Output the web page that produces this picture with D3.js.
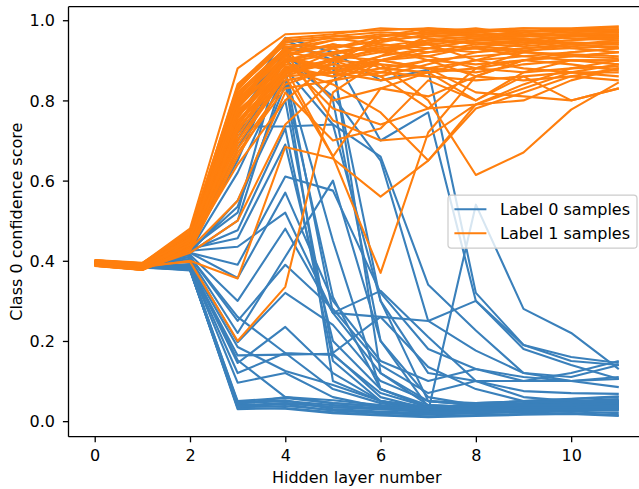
<!DOCTYPE html>
<html>
<head>
<meta charset="utf-8">
<script src="https://cdn.jsdelivr.net/npm/d3@7/dist/d3.min.js"></script>
<style>
  body { margin: 0; background: #fff; }
  svg { display: block; }
  text { font-family: "DejaVu Sans", sans-serif; fill: #000; }
</style>
</head>
<body>
<svg id="chart" width="639" height="489"></svg>
<script>
// Hidden layer index on the x axis
const layers = [0, 1, 2, 3, 4, 5, 6, 7, 8, 9, 10, 11];

// Class 0 confidence per layer, one row per sample with label 0
const label0Scores = [
  [0.395,0.386,0.379,0.035,0.038,0.028,0.022,0.018,0.020,0.022,0.024,0.020],
  [0.394,0.385,0.377,0.040,0.045,0.035,0.030,0.025,0.028,0.030,0.033,0.035],
  [0.396,0.387,0.380,0.030,0.033,0.022,0.016,0.012,0.015,0.018,0.020,0.015],
  [0.393,0.384,0.376,0.045,0.050,0.040,0.032,0.022,0.025,0.032,0.038,0.042],
  [0.395,0.385,0.381,0.050,0.058,0.045,0.038,0.030,0.038,0.042,0.048,0.052],
  [0.394,0.383,0.378,0.033,0.031,0.020,0.014,0.010,0.013,0.016,0.018,0.013],
  [0.396,0.386,0.382,0.042,0.060,0.052,0.040,0.028,0.045,0.050,0.056,0.062],
  [0.395,0.384,0.379,0.038,0.042,0.026,0.020,0.016,0.020,0.024,0.028,0.026],
  [0.394,0.385,0.383,0.047,0.052,0.030,0.024,0.020,0.022,0.026,0.030,0.030],
  [0.395,0.385,0.385,0.096,0.120,0.060,0.035,0.025,0.030,0.032,0.034,0.036],
  [0.395,0.386,0.386,0.120,0.170,0.080,0.045,0.028,0.032,0.035,0.038,0.040],
  [0.394,0.384,0.388,0.145,0.235,0.120,0.050,0.030,0.035,0.040,0.045,0.048],
  [0.395,0.385,0.390,0.152,0.060,0.045,0.036,0.030,0.030,0.034,0.036,0.038],
  [0.395,0.385,0.387,0.164,0.166,0.168,0.060,0.030,0.035,0.040,0.043,0.045],
  [0.396,0.386,0.392,0.185,0.125,0.090,0.050,0.035,0.040,0.050,0.055,0.060],
  [0.396,0.386,0.400,0.197,0.320,0.240,0.100,0.050,0.045,0.050,0.050,0.055],
  [0.395,0.385,0.405,0.220,0.410,0.600,0.200,0.035,0.030,0.030,0.032,0.030],
  [0.394,0.384,0.410,0.250,0.390,0.280,0.140,0.070,0.100,0.075,0.070,0.068],
  [0.395,0.386,0.410,0.260,0.170,0.165,0.070,0.035,0.040,0.045,0.050,0.050],
  [0.395,0.386,0.415,0.300,0.480,0.270,0.120,0.050,0.040,0.040,0.042,0.045],
  [0.396,0.387,0.420,0.357,0.570,0.300,0.150,0.100,0.130,0.100,0.100,0.105],
  [0.395,0.386,0.420,0.390,0.610,0.575,0.320,0.180,0.130,0.110,0.100,0.110],
  [0.394,0.385,0.425,0.435,0.520,0.270,0.260,0.250,0.300,0.190,0.150,0.140],
  [0.395,0.385,0.430,0.456,0.690,0.200,0.080,0.040,0.035,0.035,0.040,0.040],
  [0.396,0.386,0.425,0.476,0.730,0.150,0.050,0.030,0.030,0.030,0.035,0.035],
  [0.395,0.386,0.420,0.500,0.870,0.450,0.080,0.035,0.028,0.030,0.030,0.030],
  [0.395,0.385,0.430,0.520,0.950,0.900,0.120,0.040,0.035,0.035,0.040,0.038],
  [0.394,0.384,0.425,0.535,0.840,0.310,0.080,0.035,0.030,0.030,0.030,0.030],
  [0.396,0.386,0.435,0.650,0.930,0.914,0.700,0.770,0.300,0.180,0.140,0.105],
  [0.395,0.385,0.430,0.735,0.735,0.740,0.660,0.340,0.226,0.120,0.100,0.085],
  [0.395,0.386,0.440,0.700,0.900,0.880,0.300,0.050,0.040,0.030,0.030,0.030],
  [0.395,0.386,0.440,0.780,0.956,0.920,0.850,0.877,0.320,0.190,0.160,0.145],
  [0.394,0.385,0.430,0.800,0.900,0.810,0.650,0.250,0.176,0.120,0.110,0.140],
  [0.395,0.386,0.425,0.620,0.870,0.270,0.325,0.210,0.100,0.060,0.050,0.050],
  [0.396,0.386,0.420,0.550,0.800,0.170,0.260,0.135,0.080,0.050,0.045,0.045],
  [0.395,0.385,0.440,0.760,0.920,0.800,0.200,0.060,0.040,0.035,0.035,0.035],
  [0.394,0.385,0.440,0.720,0.850,0.100,0.050,0.035,0.040,0.040,0.040,0.045],
  [0.395,0.385,0.380,0.035,0.045,0.035,0.030,0.025,0.540,0.280,0.220,0.130],
  [0.395,0.386,0.430,0.680,0.880,0.740,0.300,0.120,0.100,0.100,0.120,0.150]
];

// Class 0 confidence per layer, one row per sample with label 1
const label1Scores = [
  [0.400,0.394,0.480,0.880,0.965,0.970,0.975,0.980,0.975,0.970,0.978,0.982],
  [0.398,0.391,0.470,0.840,0.950,0.960,0.970,0.965,0.970,0.975,0.970,0.975],
  [0.396,0.389,0.465,0.830,0.940,0.930,0.950,0.960,0.955,0.960,0.965,0.970],
  [0.393,0.386,0.460,0.820,0.930,0.950,0.960,0.970,0.980,0.965,0.960,0.955],
  [0.401,0.393,0.470,0.810,0.920,0.900,0.930,0.940,0.950,0.945,0.950,0.960],
  [0.397,0.388,0.455,0.800,0.910,0.940,0.920,0.950,0.960,0.970,0.975,0.978],
  [0.392,0.383,0.450,0.790,0.900,0.920,0.940,0.930,0.920,0.930,0.940,0.945],
  [0.389,0.380,0.445,0.780,0.935,0.910,0.900,0.920,0.940,0.950,0.930,0.920],
  [0.399,0.392,0.460,0.770,0.890,0.880,0.910,0.960,0.965,0.960,0.955,0.950],
  [0.395,0.386,0.455,0.760,0.880,0.900,0.950,0.975,0.970,0.980,0.975,0.970],
  [0.390,0.381,0.440,0.750,0.870,0.890,0.870,0.900,0.910,0.920,0.915,0.910],
  [0.394,0.384,0.450,0.740,0.920,0.950,0.965,0.955,0.940,0.935,0.945,0.940],
  [0.402,0.395,0.465,0.730,0.860,0.870,0.890,0.880,0.870,0.890,0.900,0.900],
  [0.396,0.387,0.440,0.720,0.900,0.930,0.880,0.870,0.900,0.910,0.920,0.930],
  [0.391,0.379,0.435,0.710,0.885,0.860,0.900,0.910,0.880,0.870,0.880,0.885],
  [0.388,0.378,0.430,0.700,0.870,0.920,0.930,0.900,0.890,0.900,0.890,0.875],
  [0.400,0.390,0.450,0.690,0.860,0.900,0.920,0.940,0.930,0.910,0.900,0.890],
  [0.397,0.385,0.440,0.680,0.840,0.880,0.860,0.890,0.920,0.940,0.960,0.965],
  [0.393,0.382,0.430,0.670,0.830,0.850,0.870,0.860,0.850,0.860,0.870,0.860],
  [0.389,0.377,0.425,0.660,0.850,0.870,0.910,0.930,0.950,0.955,0.940,0.930],
  [0.401,0.394,0.475,0.835,0.945,0.955,0.940,0.920,0.930,0.920,0.910,0.905],
  [0.399,0.390,0.470,0.825,0.955,0.965,0.980,0.975,0.965,0.950,0.960,0.965],
  [0.396,0.388,0.460,0.815,0.925,0.935,0.945,0.965,0.975,0.980,0.980,0.985],
  [0.392,0.384,0.455,0.805,0.910,0.880,0.900,0.880,0.900,0.930,0.935,0.940],
  [0.398,0.391,0.460,0.795,0.930,0.960,0.955,0.940,0.900,0.880,0.870,0.870],
  [0.395,0.386,0.450,0.785,0.895,0.915,0.935,0.950,0.945,0.940,0.950,0.955],
  [0.391,0.380,0.445,0.775,0.875,0.890,0.960,0.970,0.960,0.965,0.970,0.975],
  [0.388,0.379,0.440,0.765,0.905,0.870,0.850,0.870,0.880,0.900,0.910,0.920],
  [0.400,0.389,0.455,0.755,0.915,0.940,0.920,0.910,0.935,0.925,0.930,0.935],
  [0.397,0.387,0.450,0.745,0.865,0.905,0.925,0.945,0.955,0.950,0.940,0.945],
  [0.394,0.383,0.440,0.735,0.895,0.930,0.960,0.980,0.970,0.960,0.965,0.960],
  [0.390,0.378,0.435,0.725,0.880,0.860,0.880,0.900,0.860,0.850,0.860,0.850],
  [0.395,0.385,0.450,0.790,0.930,0.800,0.830,0.810,0.860,0.900,0.920,0.930],
  [0.398,0.389,0.445,0.760,0.900,0.780,0.740,0.780,0.880,0.920,0.940,0.950],
  [0.387,0.377,0.440,0.740,0.880,0.840,0.770,0.650,0.790,0.800,0.850,0.880],
  [0.401,0.392,0.455,0.800,0.920,0.750,0.700,0.710,0.790,0.840,0.880,0.900],
  [0.392,0.381,0.430,0.700,0.860,0.660,0.830,0.870,0.800,0.860,0.800,0.830],
  [0.394,0.384,0.400,0.356,0.684,0.655,0.560,0.650,0.780,0.820,0.860,0.880],
  [0.396,0.387,0.398,0.200,0.335,0.820,0.900,0.930,0.950,0.960,0.965,0.970],
  [0.393,0.382,0.450,0.770,0.880,0.660,0.370,0.720,0.860,0.900,0.910,0.920],
  [0.389,0.380,0.440,0.730,0.870,0.900,0.890,0.800,0.614,0.670,0.777,0.845],
  [0.399,0.390,0.455,0.780,0.910,0.870,0.900,0.880,0.820,0.810,0.800,0.830],
  [0.391,0.379,0.420,0.500,0.740,0.850,0.900,0.920,0.930,0.950,0.960,0.960],
  [0.388,0.378,0.430,0.550,0.820,0.700,0.730,0.850,0.800,0.870,0.900,0.900],
  [0.397,0.386,0.440,0.640,0.800,0.900,0.860,0.780,0.790,0.830,0.870,0.890]
];

const seriesNames = ["Label 0 samples", "Label 1 samples"];
const seriesColors = ["#3a80bb", "#ff7f0e"];
const xTicks = [0, 2, 4, 6, 8, 10];
const yTicks = [0.0, 0.2, 0.4, 0.6, 0.8, 1.0];
const xTitle = "Hidden layer number";
const yTitle = "Class 0 confidence score";

// Axes box (right edge sits just past the visible canvas)
const box = { left: 68.5, right: 645, top: 6.7, bottom: 436.7 };
const fontPx = 16;
const lineWidth = 2.1;

const svg = d3.select("#chart");

// Auto limits with a 5% margin on each side
function padded(ext) {
  const m = (ext[1] - ext[0]) * 0.05;
  return [ext[0] - m, ext[1] + m];
}
const allScores = label0Scores.concat(label1Scores).flat();
const x = d3.scaleLinear().domain(padded(d3.extent(layers))).range([box.left, box.right]);
const y = d3.scaleLinear().domain(padded(d3.extent(allScores))).range([box.bottom, box.top]);

svg.append("defs").append("clipPath").attr("id", "plot-clip")
  .append("rect")
  .attr("x", box.left).attr("y", box.top)
  .attr("width", box.right - box.left).attr("height", box.bottom - box.top);

const line = d3.line().x((d, i) => x(layers[i])).y(d => y(d));

const plot = svg.append("g").attr("clip-path", "url(#plot-clip)");
[label0Scores, label1Scores].forEach((group, gi) => {
  plot.append("g")
    .selectAll("path")
    .data(group)
    .join("path")
    .attr("d", line)
    .attr("fill", "none")
    .attr("stroke", seriesColors[gi])
    .attr("stroke-width", lineWidth)
    .attr("stroke-linejoin", "round")
    .attr("stroke-linecap", "butt");
});

// Axes
const tickLen = 5.6;
const xAxis = svg.append("g")
  .attr("transform", `translate(0,${box.bottom})`)
  .call(d3.axisBottom(x).tickValues(xTicks).tickFormat(d3.format("d")).tickSize(tickLen).tickPadding(5.6));
const yAxis = svg.append("g")
  .attr("transform", `translate(${box.left},0)`)
  .call(d3.axisLeft(y).tickValues(yTicks).tickFormat(d3.format(".1f")).tickSize(tickLen).tickPadding(5.6));

[xAxis, yAxis].forEach(g => {
  g.select(".domain").remove();
  g.selectAll(".tick line").attr("stroke", "#000").attr("stroke-width", 1.3);
  g.selectAll(".tick text").attr("font-size", fontPx).attr("fill", "#000")
    .style("font-family", '"DejaVu Sans", sans-serif');
});
xAxis.selectAll(".tick text").attr("y", 24.8).attr("dy", null);
yAxis.selectAll(".tick text").attr("x", -13.5).attr("dy", "0.36em");

// Spines
const spines = svg.append("g").attr("stroke", "#000").attr("stroke-width", 1.3).attr("fill", "none");
spines.append("line").attr("x1", box.left).attr("x2", box.left).attr("y1", box.top).attr("y2", box.bottom);
spines.append("line").attr("x1", box.left).attr("x2", box.right).attr("y1", box.bottom).attr("y2", box.bottom);
spines.append("line").attr("x1", box.left).attr("x2", box.right).attr("y1", box.top).attr("y2", box.top);
spines.append("line").attr("x1", box.right).attr("x2", box.right).attr("y1", box.top).attr("y2", box.bottom);

// Axis titles
svg.append("text")
  .attr("x", (box.left + box.right) / 2).attr("y", 483)
  .attr("text-anchor", "middle").attr("font-size", fontPx)
  .text(xTitle);
svg.append("text")
  .attr("transform", `translate(21.5,${(box.top + box.bottom) / 2}) rotate(-90)`)
  .attr("text-anchor", "middle").attr("font-size", fontPx)
  .text(yTitle);

// Legend, centred on the right edge of the axes
const legW = 189, legH = 53;
const legX = box.right - 8 - legW;
const legY = (box.top + box.bottom) / 2 - legH / 2;
const legend = svg.append("g").attr("transform", `translate(${legX},${legY})`);
legend.append("rect")
  .attr("x", 0).attr("y", 0).attr("width", legW).attr("height", legH)
  .attr("rx", 3.2).attr("ry", 3.2)
  .attr("fill", "#fff").attr("fill-opacity", 0.8)
  .attr("stroke", "#cccccc").attr("stroke-width", 1.2);
seriesNames.forEach((name, i) => {
  const cy = 14 + i * 24;
  legend.append("line")
    .attr("x1", 6.4).attr("x2", 38.4).attr("y1", cy).attr("y2", cy)
    .attr("stroke", seriesColors[i]).attr("stroke-width", lineWidth);
  legend.append("text")
    .attr("x", 52).attr("y", cy + 6)
    .attr("font-size", fontPx)
    .text(name);
});
</script>
</body>
</html>
